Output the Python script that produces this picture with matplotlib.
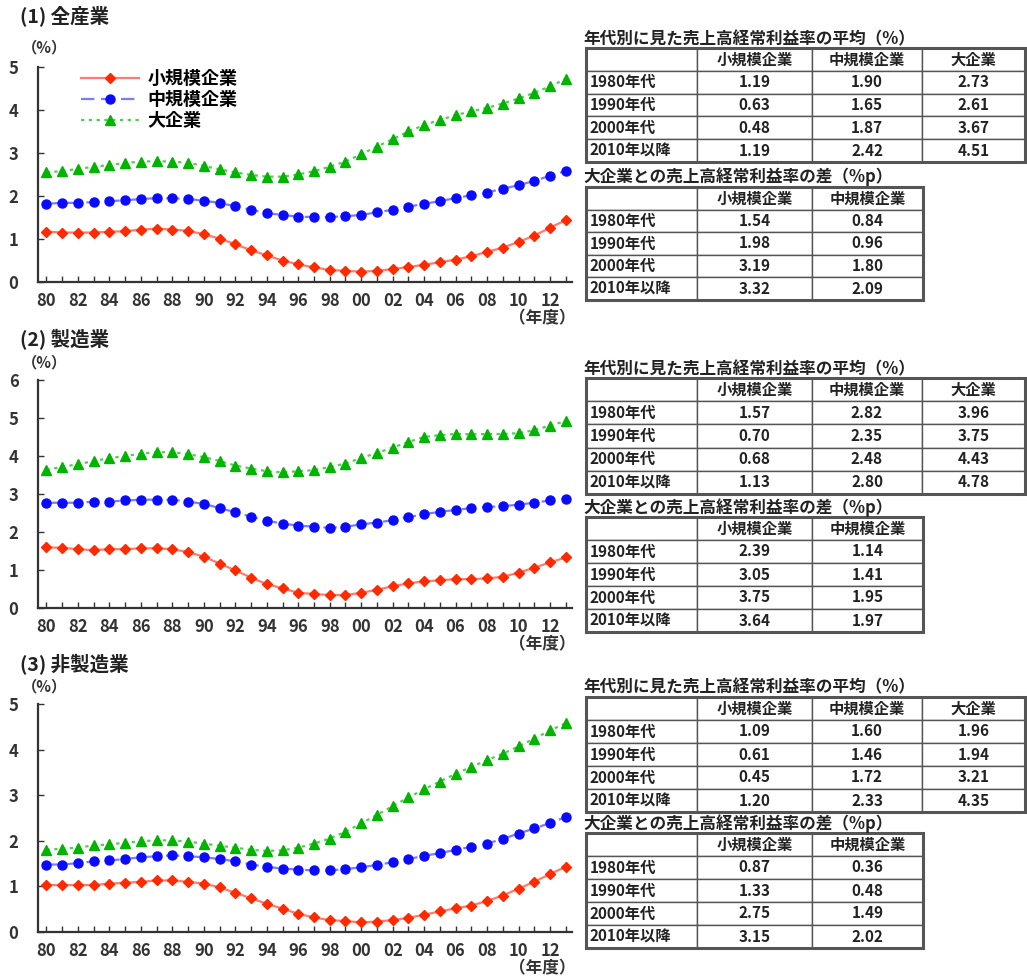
import matplotlib.pyplot as plt
from matplotlib.patches import Rectangle

plt.rcParams['font.family'] = ['Noto Sans CJK JP', 'DejaVu Sans']

W, H = 1027, 976

years = list(range(1980, 2014))
tick_years = list(range(1980, 2013, 2))
tick_labels = [f"{y % 100:02d}" for y in tick_years]

series_names = ['小規模企業', '中規模企業', '大企業']
decades = ['1980年代', '1990年代', '2000年代', '2010年以降']

# (1) 全産業
all_small = [1.17, 1.15, 1.15, 1.15, 1.17, 1.18, 1.22, 1.24, 1.22, 1.19,
             1.11, 1.01, 0.88, 0.74, 0.62, 0.50, 0.41, 0.34, 0.28, 0.26,
             0.24, 0.26, 0.30, 0.35, 0.40, 0.46, 0.52, 0.60, 0.70, 0.80,
             0.93, 1.08, 1.26, 1.44]
all_mid = [1.82, 1.84, 1.84, 1.86, 1.88, 1.90, 1.93, 1.95, 1.95, 1.93,
           1.89, 1.84, 1.76, 1.68, 1.60, 1.56, 1.52, 1.51, 1.51, 1.53,
           1.56, 1.62, 1.68, 1.75, 1.82, 1.88, 1.95, 2.02, 2.08, 2.17,
           2.25, 2.35, 2.47, 2.58]
all_large = [2.55, 2.58, 2.63, 2.68, 2.72, 2.77, 2.80, 2.81, 2.80, 2.77,
             2.70, 2.62, 2.55, 2.49, 2.45, 2.45, 2.50, 2.58, 2.68, 2.80,
             2.97, 3.15, 3.32, 3.50, 3.65, 3.77, 3.88, 3.97, 4.05, 4.15,
             4.27, 4.40, 4.55, 4.72]
all_avg = [['1.19', '1.90', '2.73'], ['0.63', '1.65', '2.61'],
           ['0.48', '1.87', '3.67'], ['1.19', '2.42', '4.51']]
all_gap = [['1.54', '0.84'], ['1.98', '0.96'], ['3.19', '1.80'], ['3.32', '2.09']]

# (2) 製造業
mfg_small = [1.60, 1.58, 1.55, 1.52, 1.55, 1.55, 1.57, 1.57, 1.55, 1.47,
             1.35, 1.17, 0.99, 0.80, 0.63, 0.52, 0.40, 0.37, 0.34, 0.34,
             0.40, 0.48, 0.57, 0.65, 0.70, 0.73, 0.76, 0.76, 0.78, 0.82,
             0.93, 1.06, 1.20, 1.33]
mfg_mid = [2.77, 2.77, 2.77, 2.80, 2.80, 2.83, 2.85, 2.85, 2.85, 2.80,
           2.74, 2.63, 2.52, 2.40, 2.30, 2.22, 2.17, 2.14, 2.11, 2.14,
           2.20, 2.25, 2.31, 2.39, 2.47, 2.53, 2.58, 2.63, 2.66, 2.68,
           2.72, 2.77, 2.83, 2.88]
mfg_large = [3.63, 3.72, 3.78, 3.87, 3.94, 4.00, 4.06, 4.10, 4.10, 4.05,
             3.97, 3.87, 3.75, 3.67, 3.60, 3.57, 3.60, 3.63, 3.71, 3.80,
             3.95, 4.08, 4.22, 4.37, 4.50, 4.55, 4.58, 4.57, 4.58, 4.58,
             4.60, 4.68, 4.80, 4.92]
mfg_avg = [['1.57', '2.82', '3.96'], ['0.70', '2.35', '3.75'],
           ['0.68', '2.48', '4.43'], ['1.13', '2.80', '4.78']]
mfg_gap = [['2.39', '1.14'], ['3.05', '1.41'], ['3.75', '1.95'], ['3.64', '1.97']]

# (3) 非製造業
non_small = [1.03, 1.03, 1.03, 1.03, 1.06, 1.08, 1.10, 1.13, 1.13, 1.10,
             1.06, 0.98, 0.86, 0.74, 0.62, 0.51, 0.40, 0.32, 0.26, 0.24,
             0.21, 0.23, 0.26, 0.31, 0.38, 0.45, 0.52, 0.58, 0.68, 0.80,
             0.95, 1.10, 1.27, 1.43]
non_mid = [1.48, 1.48, 1.51, 1.55, 1.57, 1.60, 1.64, 1.66, 1.68, 1.66,
           1.64, 1.60, 1.55, 1.48, 1.43, 1.39, 1.37, 1.35, 1.35, 1.38,
           1.42, 1.47, 1.53, 1.60, 1.67, 1.73, 1.80, 1.87, 1.94, 2.04,
           2.16, 2.27, 2.39, 2.52]
non_large = [1.80, 1.83, 1.85, 1.90, 1.92, 1.96, 1.99, 2.01, 2.01, 1.98,
             1.94, 1.89, 1.85, 1.80, 1.78, 1.79, 1.85, 1.94, 2.05, 2.20,
             2.38, 2.57, 2.76, 2.95, 3.13, 3.30, 3.47, 3.62, 3.77, 3.91,
             4.07, 4.24, 4.42, 4.58]
non_avg = [['1.09', '1.60', '1.96'], ['0.61', '1.46', '1.94'],
           ['0.45', '1.72', '3.21'], ['1.20', '2.33', '4.35']]
non_gap = [['0.87', '0.36'], ['1.33', '0.48'], ['2.75', '1.49'], ['3.15', '2.02']]

panel_titles = ['(1) 全産業', '(2) 製造業', '(3) 非製造業']
avg_title = '年代別に見た売上高経常利益率の平均（%）'
gap_title = '大企業との売上高経常利益率の差（%p）'

fig = plt.figure(figsize=(W / 100, H / 100), dpi=100)


def rect(x0, y0, x1, y1):
    # pixel box (top-left origin) -> figure fraction
    return [x0 / W, 1 - y1 / H, (x1 - x0) / W, (y1 - y0) / H]


def ftext(x, y, s, **kw):
    fig.text(x / W, 1 - y / H, s, **kw)


styles = [
    dict(color='#ff7b6b', lw=1.6, ls='-', marker='D', ms=5.5, mfc='#ff2a00', mec='#ff2a00'),
    dict(color='#7a7aff', lw=1.6, ls=(0, (6, 3)), marker='o', ms=6.5, mfc='#0a0aff', mec='#0a0aff'),
    dict(color='#55cc55', lw=1.6, ls=(0, (1.5, 2)), marker='^', ms=6.5, mfc='#00b400', mec='#00b400'),
]


def draw_table(box, col_px, rows, title, title_y):
    ftext(583, title_y, title, fontsize=12, fontweight='bold', va='center', color='#222')
    ax = fig.add_axes(rect(*box))
    ax.axis('off')
    total = sum(col_px)
    tb = ax.table(cellText=rows, colWidths=[c / total for c in col_px],
                  cellLoc='center', bbox=[0, 0, 1, 1])
    tb.auto_set_font_size(False)
    for (r, c), cell in tb.get_celld().items():
        cell.set_edgecolor('#555555')
        cell.set_linewidth(1.0)
        cell.set_text_props(fontsize=11, fontweight='bold', color='#222')
        if c == 0:
            cell.PAD = 0.035
            cell.set_text_props(ha='left')
    ax.add_patch(Rectangle((0, 0), 1, 1, transform=ax.transAxes, fill=False,
                           lw=2.2, edgecolor='#555555', clip_on=False))


panels = [
    dict(title_y=16, unit_y=47, top=67, bot=282, ymax=5,
         data=[all_small, all_mid, all_large], avg=all_avg, gap=all_gap,
         avg_box=(586, 48, 1025, 162), avg_ty=39, gap_box=(586, 187, 923, 300), gap_ty=177),
    dict(title_y=340, unit_y=362, top=380, bot=608, ymax=6,
         data=[mfg_small, mfg_mid, mfg_large], avg=mfg_avg, gap=mfg_gap,
         avg_box=(586, 378, 1025, 494), avg_ty=369, gap_box=(586, 517, 923, 632), gap_ty=508),
    dict(title_y=665, unit_y=686, top=704, bot=932, ymax=5,
         data=[non_small, non_mid, non_large], avg=non_avg, gap=non_gap,
         avg_box=(586, 697, 1025, 812), avg_ty=687, gap_box=(586, 833, 923, 948), gap_ty=824),
]

for i, p in enumerate(panels):
    ftext(20, p['title_y'], panel_titles[i], fontsize=14, fontweight='bold', va='center', color='#222')
    ftext(22, p['unit_y'], '（%）', fontsize=11, fontweight='bold', va='center', color='#333')

    ax = fig.add_axes(rect(38, p['top'], 572, p['bot']))
    for vals, name, st in zip(p['data'], series_names, styles):
        ax.plot(years, vals, label=name, **st)
    ax.set_xlim(1979.46, 2013.4)
    ax.set_ylim(0, p['ymax'])
    ax.set_xticks(tick_years)
    ax.set_xticklabels(tick_labels)
    ax.set_xticks(years, minor=True)
    ax.set_yticks(range(p['ymax'] + 1))
    for s in ['top', 'right']:
        ax.spines[s].set_visible(False)
    for s in ['left', 'bottom']:
        ax.spines[s].set_color('#333333')
        ax.spines[s].set_linewidth(1.6)
    ax.tick_params(which='both', direction='in', length=4, width=1, color='#333333')
    ax.tick_params(axis='x', pad=7, labelsize=12)
    ax.tick_params(axis='y', pad=14, labelsize=12)
    for lab in ax.get_xticklabels() + ax.get_yticklabels():
        lab.set_fontweight('bold')
        lab.set_color('#333333')
    ftext(576, p['bot'] + 36, '（年度）', ha='right', va='center',
          fontsize=12, fontweight='bold', color='#333')

    if i == 0:
        ax.legend(loc='upper left', bbox_to_anchor=(0.05, 1.065), frameon=False,
                  handlelength=3.2, handletextpad=0.5, labelspacing=0.1,
                  prop=dict(size=13, weight='bold'))

    header_avg = [[''] + series_names] + [[d] + r for d, r in zip(decades, p['avg'])]
    header_gap = [[''] + series_names[:2]] + [[d] + r for d, r in zip(decades, p['gap'])]
    draw_table(p['avg_box'], [111, 115, 110, 103], header_avg, avg_title, p['avg_ty'])
    draw_table(p['gap_box'], [111, 115, 111], header_gap, gap_title, p['gap_ty'])

plt.savefig('out.png', dpi=100)
